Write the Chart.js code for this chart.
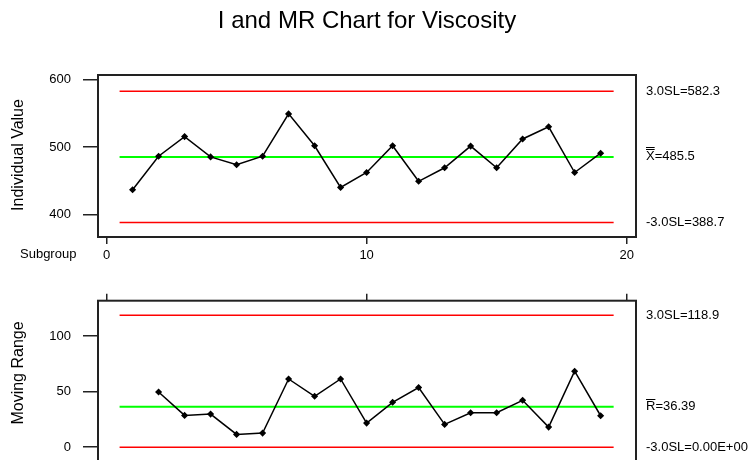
<!DOCTYPE html>
<html>
<head>
<meta charset="utf-8">
<script src="https://cdn.jsdelivr.net/npm/chart.js@4.4.1/dist/chart.umd.min.js"></script>
<style>
  html, body { margin:0; padding:0; background:#fff; overflow:hidden; width:750px; height:460px; }
  #wrap { position:relative; width:750px; height:460px; overflow:hidden; }
  #c1 { position:absolute; left:0; top:0; }
  #c2 { position:absolute; left:0; top:280px; }
</style>
</head>
<body>
<div id="wrap">
  <canvas id="c1" width="750" height="277"></canvas>
  <canvas id="c2" width="750" height="188"></canvas>
</div>
<script>
// ---- data ----
const subgroups = [1,2,3,4,5,6,7,8,9,10,11,12,13,14,15,16,17,18,19];
const individualValues = [437, 486.5, 515.5, 485.5, 474, 486.5, 549, 502, 440.5, 462.5, 502, 449.5, 469.5, 501.5, 469.5, 512, 530, 462.5, 491];
const mrSubgroups = [2,3,4,5,6,7,8,9,10,11,12,13,14,15,16,17,18,19];
const movingRanges = [49.7, 28.6, 29.8, 11.5, 12.7, 61.4, 45.8, 61.4, 21.7, 40.4, 53.7, 20.5, 31, 31, 42.2, 18.1, 68.4, 28.3];
const iLimits = { ucl: 582.3, cl: 485.5, lcl: 388.7 };
const mrLimits = { ucl: 118.9, cl: 36.39, lcl: 0 };
const iLimitLabels = ["3.0SL=582.3", "X=485.5", "-3.0SL=388.7"];
const mrLimitLabels = ["3.0SL=118.9", "R=36.39", "-3.0SL=0.00E+00"];
const xTickValues = [0, 10, 20];
const iTickValues = [400, 500, 600];
const mrTickValues = [0, 50, 100];
const limitSpan = [0.5, 19.5];

const FONT = "'Liberation Sans', Arial, sans-serif";
Chart.defaults.font.family = FONT;
Chart.defaults.color = '#000';
Chart.defaults.animation = false;

function pts(xs, ys) { return xs.map((x, i) => ({ x: x, y: ys[i] })); }
function hline(v, color, w) {
  return { data: [{x: limitSpan[0], y: v}, {x: limitSpan[1], y: v}], borderColor: color, borderWidth: w,
           pointRadius: 0, fill: false, order: 2 };
}

function makePlugin(opts) {
  return {
    id: 'deco',
    afterDraw(chart) {
      const ctx = chart.ctx, a = chart.chartArea, ys = chart.scales.y;
      ctx.save();
      ctx.strokeStyle = '#222'; ctx.lineWidth = 2;
      ctx.strokeRect(a.left, a.top, a.right - a.left, a.bottom - a.top);
      ctx.fillStyle = '#000';
      ctx.font = '13px ' + FONT;
      ctx.textAlign = 'left'; ctx.textBaseline = 'middle';
      opts.labels.forEach((l) => {
        const y = ys.getPixelForValue(l.value) + (l.dy || 0);
        const x = 646;
        ctx.fillText(l.text, x, y);
        if (l.bars) {
          const w = ctx.measureText(l.text[0]).width;
          ctx.strokeStyle = '#000'; ctx.lineWidth = 1;
          for (let b = 0; b < l.bars; b++) {
            const yy = Math.round(y - 7.5 - b * 2.5) + 0.5;
            ctx.beginPath(); ctx.moveTo(x, yy); ctx.lineTo(x + w, yy); ctx.stroke();
          }
        }
      });
      ctx.font = '16px ' + FONT;
      ctx.textAlign = 'center'; ctx.textBaseline = 'middle';
      ctx.translate(19, opts.yTitleY);
      ctx.rotate(-Math.PI / 2);
      ctx.fillText(opts.yTitle, 0, 0);
      ctx.restore();
      if (opts.extra) opts.extra(chart);
    }
  };
}

function axisCommon(tickVals, len) {
  return {
    type: 'linear',
    afterBuildTicks: (s) => { s.ticks = tickVals.map(v => ({ value: v })); },
    grid: { display: true, drawOnChartArea: false, drawTicks: true, tickLength: len, color: '#222', lineWidth: 1.5 },
    border: { display: false },
  };
}
function fixY(s) { s.width = 98; s.paddingTop = 0; s.paddingBottom = 0; }

// ---- Individual chart ----
new Chart(document.getElementById('c1'), {
  type: 'line',
  data: {
    datasets: [
      hline(iLimits.ucl, '#ff0000', 1.5),
      hline(iLimits.cl, '#00ff00', 2),
      hline(iLimits.lcl, '#ff0000', 1.5),
      { data: pts(subgroups, individualValues), borderColor: '#000', borderWidth: 1.5, tension: 0,
        pointStyle: 'rectRot', pointRadius: 2.5, pointBackgroundColor: '#000', pointBorderColor: '#000', order: 1 }
    ]
  },
  options: {
    responsive: false,
    maintainAspectRatio: false,
    layout: { padding: { top: 75, right: 114, left: 0, bottom: 0 } },
    plugins: { legend: { display: false }, tooltip: { enabled: false }, title: { display: false } },
    scales: {
      x: Object.assign(axisCommon(xTickValues, 7), {
        position: 'bottom', min: -0.33, max: 20.36,
        ticks: { font: { size: 13 }, padding: 4, maxRotation: 0 },
        afterFit: (s) => { s.height = 40; }
      }),
      y: Object.assign(axisCommon(iTickValues, 15), {
        min: 367.3, max: 606.4,
        ticks: { font: { size: 13 }, padding: 12 },
        afterFit: fixY
      })
    }
  },
  plugins: [makePlugin({
    labels: [
      { value: iLimits.ucl, text: iLimitLabels[0] },
      { value: iLimits.cl, text: iLimitLabels[1], bars: 2, dy: 0 },
      { value: iLimits.lcl, text: iLimitLabels[2] }
    ],
    yTitle: 'Individual Value', yTitleY: 155,
    extra: (chart) => {
      const ctx = chart.ctx;
      ctx.save();
      ctx.fillStyle = '#000';
      ctx.font = '24px ' + FONT;
      ctx.textAlign = 'center'; ctx.textBaseline = 'middle';
      ctx.fillText('I and MR Chart for Viscosity', 367, 21);
      ctx.font = '13px ' + FONT;
      ctx.textAlign = 'left'; ctx.textBaseline = 'top';
      ctx.fillText('Subgroup', 20, chart.chartArea.bottom + 7 + 4);
      ctx.restore();
    }
  })]
});

// ---- Moving range chart ----
new Chart(document.getElementById('c2'), {
  type: 'line',
  data: {
    datasets: [
      hline(mrLimits.ucl, '#ff0000', 1.5),
      hline(mrLimits.cl, '#00ff00', 2),
      hline(mrLimits.lcl, '#ff0000', 1.5),
      { data: pts(mrSubgroups, movingRanges), borderColor: '#000', borderWidth: 1.5, tension: 0,
        pointStyle: 'rectRot', pointRadius: 2.5, pointBackgroundColor: '#000', pointBorderColor: '#000', order: 1 }
    ]
  },
  options: {
    responsive: false,
    maintainAspectRatio: false,
    layout: { padding: { top: 0, right: 114, left: 0, bottom: 0 } },
    plugins: { legend: { display: false }, tooltip: { enabled: false }, title: { display: false } },
    scales: {
      x: Object.assign(axisCommon(xTickValues, 7), {
        position: 'top', min: -0.33, max: 20.36,
        ticks: { display: false },
        afterFit: (s) => { s.height = 20.7; }
      }),
      y: Object.assign(axisCommon(mrTickValues, 15), {
        min: -13.8, max: 131.9,
        ticks: { font: { size: 13 }, padding: 12 },
        afterFit: fixY
      })
    }
  },
  plugins: [makePlugin({
    labels: [
      { value: mrLimits.ucl, text: mrLimitLabels[0] },
      { value: mrLimits.cl, text: mrLimitLabels[1], bars: 1, dy: 0 },
      { value: mrLimits.lcl, text: mrLimitLabels[2] }
    ],
    yTitle: 'Moving Range', yTitleY: 93
  })]
});
</script>
</body>
</html>
